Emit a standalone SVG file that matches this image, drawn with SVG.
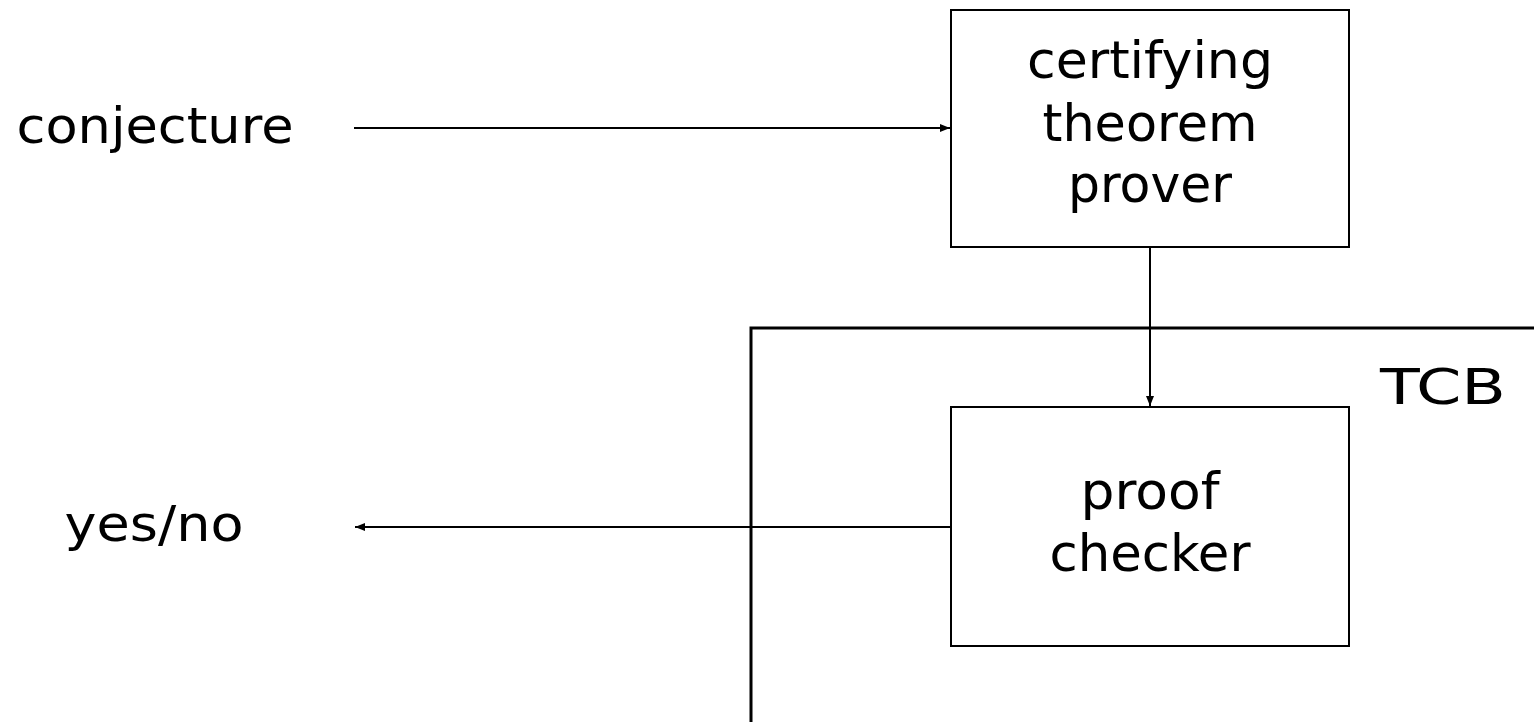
<svg xmlns="http://www.w3.org/2000/svg" width="1534" height="722" viewBox="0 0 1534 722">
  <style>
    .box { fill: none; stroke: #000; stroke-width: 2; }
    .wire { fill: none; stroke: #000; stroke-width: 2; }
    .border { fill: none; stroke: #000; stroke-width: 3; }
    .lbl { font-family: "DejaVu Sans", "Liberation Sans", sans-serif; font-size: 49px; fill: #000; }
    .inbox { font-size: 52px; text-anchor: middle; }
  </style>
  <defs>
    <marker id="arrow" viewBox="0 0 10 10" refX="10" refY="5" markerWidth="5" markerHeight="5" orient="auto" markerUnits="strokeWidth">
      <path d="M0,1 L10,5 L0,9 z" fill="#000"/>
    </marker>
  </defs>

  <rect width="1534" height="722" fill="#fff"/>

  <!-- trusted computing base boundary -->
  <g id="tcb">
    <path class="border" d="M751,722 V328 H1534"/>
    <text class="lbl" x="1443" y="404" text-anchor="middle" textLength="126" lengthAdjust="spacingAndGlyphs">TCB</text>
  </g>

  <g id="conjecture">
    <text class="lbl" x="155" y="143" text-anchor="middle" textLength="277" lengthAdjust="spacingAndGlyphs">conjecture</text>
  </g>

  <g id="yesno">
    <text class="lbl" x="154" y="541" text-anchor="middle" textLength="179" lengthAdjust="spacingAndGlyphs">yes/no</text>
  </g>

  <g id="prover">
    <rect class="box" x="951" y="10" width="398" height="237"/>
    <text class="lbl inbox" x="1150" y="78" textLength="246" lengthAdjust="spacingAndGlyphs">certifying</text>
    <text class="lbl inbox" x="1150" y="141" textLength="215" lengthAdjust="spacingAndGlyphs">theorem</text>
    <text class="lbl inbox" x="1150" y="202" textLength="164" lengthAdjust="spacingAndGlyphs">prover</text>
  </g>

  <g id="checker">
    <rect class="box" x="951" y="407" width="398" height="239"/>
    <text class="lbl inbox" x="1150" y="509" textLength="139" lengthAdjust="spacingAndGlyphs">proof</text>
    <text class="lbl inbox" x="1150" y="571" textLength="201" lengthAdjust="spacingAndGlyphs">checker</text>
  </g>

  <g id="connectors">
    <line class="wire" x1="354" y1="128" x2="950" y2="128" marker-end="url(#arrow)"/>
    <line class="wire" x1="1150" y1="247" x2="1150" y2="406" marker-end="url(#arrow)"/>
    <line class="wire" x1="951" y1="527" x2="355" y2="527" marker-end="url(#arrow)"/>
  </g>
</svg>
